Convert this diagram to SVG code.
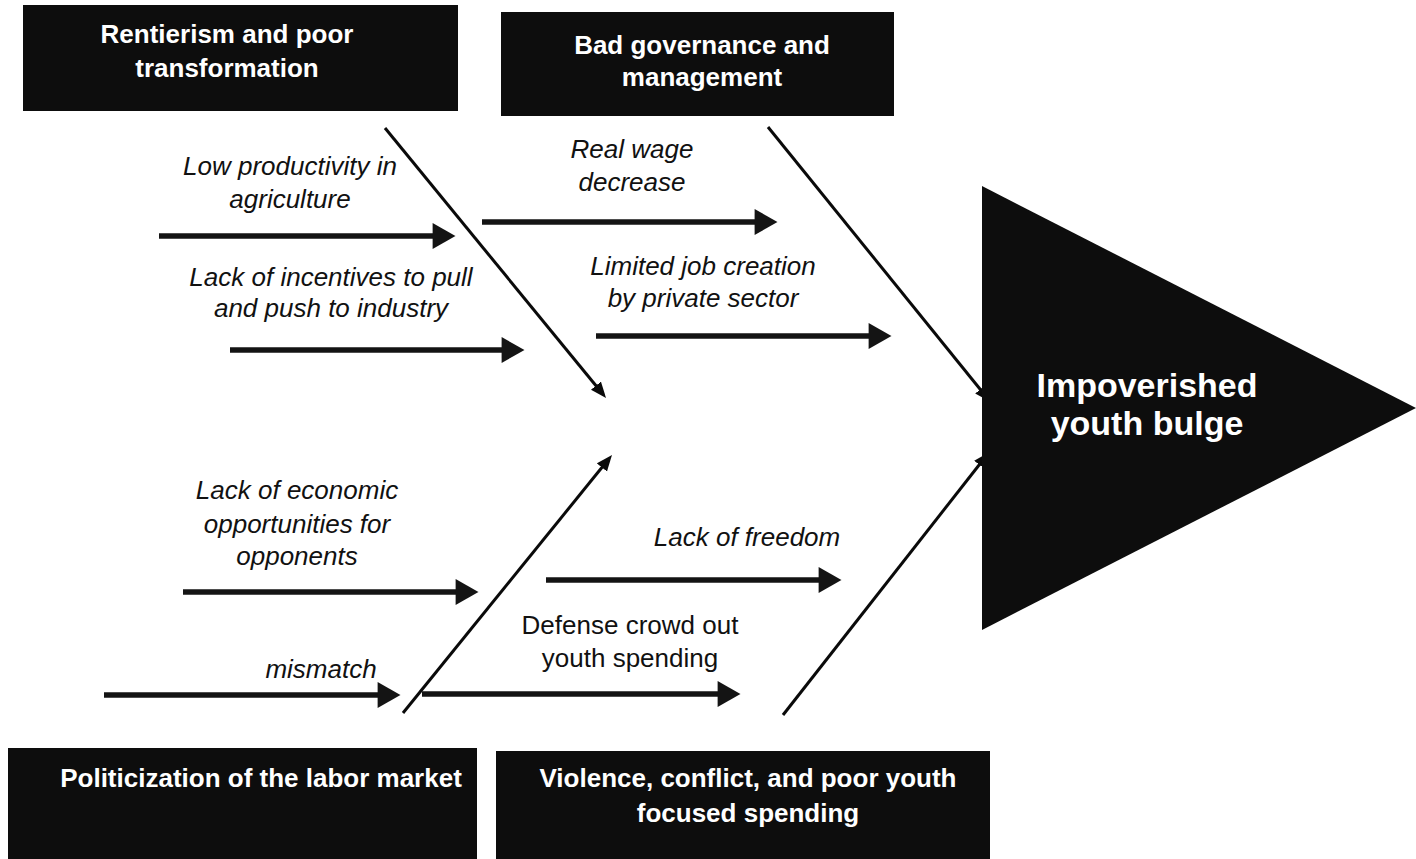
<svg xmlns="http://www.w3.org/2000/svg" width="1416" height="859" viewBox="0 0 1416 859">
  <style>
    .box { fill: #0d0d0d; }
    .title { font-family: "Liberation Sans", Arial, sans-serif; font-weight: bold; font-size: 26px; fill: #ffffff; text-anchor: middle; }
    .effect { font-family: "Liberation Sans", Arial, sans-serif; font-weight: bold; font-size: 34px; fill: #ffffff; text-anchor: middle; }
    .cause { font-family: "Liberation Sans", Arial, sans-serif; font-style: italic; font-size: 26px; fill: #111111; text-anchor: middle; }
    .cause-plain { font-family: "Liberation Sans", Arial, sans-serif; font-size: 26px; fill: #111111; text-anchor: middle; }
    .bone { stroke: #0a0a0a; stroke-width: 3; fill: none; marker-end: url(#thinHead); }
    .rib { stroke: #141414; stroke-width: 5.5; fill: none; marker-end: url(#thickHead); }
  </style>
  <defs>
    <marker id="thickHead" markerUnits="userSpaceOnUse" markerWidth="24" markerHeight="26" viewBox="0 0 22 25" refX="10" refY="12.5" orient="auto">
      <path d="M0,0 L22,12.5 L0,25 z" fill="#141414"/>
    </marker>
    <marker id="thinHead" markerUnits="userSpaceOnUse" markerWidth="16" markerHeight="14" viewBox="0 0 16 13" refX="6" refY="6.5" orient="auto">
      <path d="M0,0 L16,6.5 L0,13 z" fill="#0a0a0a"/>
    </marker>
  </defs>

  <rect width="1416" height="859" fill="#ffffff"/>

  <!-- connectors: main bones and cause ribs -->
  <g id="connectors">
    <line class="bone" x1="385" y1="128" x2="599.7" y2="390.3"/>
    <line class="bone" x1="768" y1="127" x2="984" y2="394"/>
    <line class="bone" x1="403" y1="713" x2="605.7" y2="462.8"/>
    <line class="bone" x1="783" y1="715" x2="983" y2="460"/>

    <line class="rib" x1="159" y1="236" x2="443" y2="236"/>
    <line class="rib" x1="230" y1="350" x2="512" y2="350"/>
    <line class="rib" x1="482" y1="222" x2="765" y2="222"/>
    <line class="rib" x1="596" y1="336" x2="879" y2="336"/>
    <line class="rib" x1="183" y1="592" x2="466" y2="592"/>
    <line class="rib" x1="546" y1="580" x2="829" y2="580"/>
    <line class="rib" x1="104" y1="695" x2="388" y2="695"/>
    <line class="rib" x1="422" y1="694" x2="728" y2="694"/>
  </g>

  <!-- category boxes -->
  <g id="rentierism">
    <rect class="box" x="23" y="5" width="435" height="106"/>
    <text class="title" x="227" y="43">Rentierism and poor</text>
    <text class="title" x="227" y="77">transformation</text>
  </g>
  <g id="governance">
    <rect class="box" x="501" y="12" width="393" height="104"/>
    <text class="title" x="702" y="54">Bad governance and</text>
    <text class="title" x="702" y="86">management</text>
  </g>
  <g id="politicization">
    <rect class="box" x="8" y="748" width="469" height="111"/>
    <text class="title" x="261" y="787">Politicization of the labor market</text>
  </g>
  <g id="violence">
    <rect class="box" x="496" y="751" width="494" height="108"/>
    <text class="title" x="748" y="787">Violence, conflict, and poor youth</text>
    <text class="title" x="748" y="822">focused spending</text>
  </g>

  <!-- effect head -->
  <g id="effect">
    <polygon points="982,186 1416,408 982,630" fill="#0d0d0d"/>
    <text class="effect" x="1147" y="397">Impoverished</text>
    <text class="effect" x="1147" y="435">youth bulge</text>
  </g>

  <!-- cause labels -->
  <g id="cause-productivity">
    <text class="cause" x="290" y="175">Low productivity in</text>
    <text class="cause" x="290" y="208">agriculture</text>
  </g>
  <g id="cause-incentives">
    <text class="cause" x="331" y="286">Lack of incentives to pull</text>
    <text class="cause" x="331" y="317">and push to industry</text>
  </g>
  <g id="cause-wage">
    <text class="cause" x="632" y="158">Real wage</text>
    <text class="cause" x="632" y="191">decrease</text>
  </g>
  <g id="cause-jobs">
    <text class="cause" x="703" y="275">Limited job creation</text>
    <text class="cause" x="703" y="307">by private sector</text>
  </g>
  <g id="cause-opportunities">
    <text class="cause" x="297" y="499">Lack of economic</text>
    <text class="cause" x="297" y="533">opportunities for</text>
    <text class="cause" x="297" y="565">opponents</text>
  </g>
  <g id="cause-mismatch">
    <text class="cause" x="321" y="678">mismatch</text>
  </g>
  <g id="cause-freedom">
    <text class="cause" x="747" y="546">Lack of freedom</text>
  </g>
  <g id="cause-defense">
    <text class="cause-plain" x="630" y="634">Defense crowd out</text>
    <text class="cause-plain" x="630" y="667">youth spending</text>
  </g>
</svg>
